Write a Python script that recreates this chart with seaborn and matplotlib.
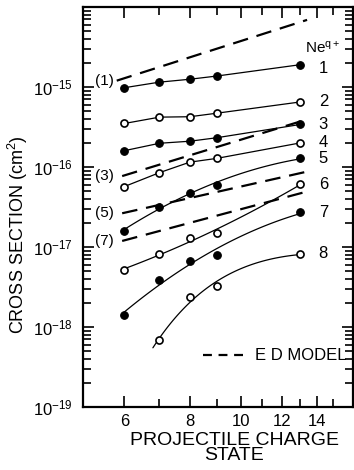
import numpy as np
import pandas as pd
import seaborn as sns
import matplotlib.pyplot as plt
from matplotlib.lines import Line2D
from matplotlib.ticker import FixedLocator, FixedFormatter, NullFormatter

# Data (cross sections in cm^2)
charge = [6, 7, 8, 9, 13]
ne1 = [9.8e-16, 1.15e-15, 1.25e-15, 1.37e-15, 1.9e-15]
ne2 = [3.5e-16, 4.2e-16, 4.25e-16, 4.7e-16, 6.5e-16]
ne3 = [1.6e-16, 1.98e-16, 2.1e-16, 2.32e-16, 3.4e-16]
ne4 = [5.7e-17, 8.5e-17, 1.15e-16, 1.28e-16, 2.0e-16]
ne5 = [1.6e-17, 3.2e-17, 4.8e-17, 6.0e-17, 1.28e-16]
ne6 = [5.2e-18, 8.1e-18, 1.31e-17, 1.48e-17, 6.1e-17]
ne7 = [1.41e-18, 3.9e-18, 6.7e-18, 7.9e-18, 2.7e-17]
ne8 = [np.nan, 6.9e-19, 2.4e-18, 3.25e-18, 8.2e-18]

# E D model lines (start / end of each dashed line)
ed_labels = ['(1)', '(3)', '(5)', '(7)']
ed_charge = [[5.8, 13.4], [5.94, 13.34], [5.94, 13.34], [5.94, 13.34]]
ed_values = [[1.2e-15, 6.9e-15], [7.7e-17, 3.9e-16], [2.64e-17, 8.7e-17], [1.19e-17, 4.9e-17]]

y_ticks = [1e-19, 1e-18, 1e-17, 1e-16, 1e-15]

series = [ne1, ne2, ne3, ne4, ne5, ne6, ne7, ne8]
filled = [True, False, True, False, True, False, True, False]

rows = []
for q, (vals, f) in enumerate(zip(series, filled), start=1):
    for c, v in zip(charge, vals):
        if not np.isnan(v):
            rows.append({'charge': c, 'sigma': v, 'q': q, 'filled': f})
df = pd.DataFrame(rows)

sns.set_style("ticks")
plt.rcParams['font.family'] = ['Liberation Sans', 'DejaVu Sans']
plt.rcParams['mathtext.fontset'] = 'custom'
plt.rcParams['mathtext.rm'] = 'Liberation Sans'
plt.rcParams['mathtext.it'] = 'Liberation Sans'
plt.rcParams['text.color'] = 'black'
plt.rcParams['axes.labelcolor'] = 'black'

fig = plt.figure(figsize=(3.54, 4.70), dpi=100)
ax = fig.add_axes([83 / 354, 63 / 470, 270 / 354, 400 / 470])
ax.set_xscale('log')
ax.set_yscale('log')

# measured curves: straight segments for q=1-4, smooth fits for q=5-8
for q in range(1, 9):
    sub = df[df.q == q]
    if q <= 4:
        sns.lineplot(data=sub, x='charge', y='sigma', ax=ax, color='black',
                     lw=0.9, estimator=None, legend=False)
    elif q < 8:
        coef = np.polyfit(np.log(sub.charge), np.log10(sub.sigma), 2)
        xs = np.linspace(6, 13, 80)
        ys = 10 ** np.polyval(coef, np.log(xs))
        sns.lineplot(x=xs, y=ys, ax=ax, color='black', lw=0.9, legend=False)
    else:
        coef = np.polyfit(1 / sub.charge, np.log10(sub.sigma), 2)
        xs = np.linspace(6.8, 13, 80)
        ys = 10 ** np.polyval(coef, 1 / xs)
        sns.lineplot(x=xs, y=ys, ax=ax, color='black', lw=0.9, legend=False)

sns.scatterplot(data=df[df.filled], x='charge', y='sigma', ax=ax, color='black',
                s=30, edgecolor='black', linewidth=0.8, zorder=3, legend=False)
sns.scatterplot(data=df[~df.filled], x='charge', y='sigma', ax=ax, color='white',
                s=26, edgecolor='black', linewidth=1.2, zorder=3, legend=False)

for lab, xs, ys in zip(ed_labels, ed_charge, ed_values):
    sns.lineplot(x=xs, y=ys, ax=ax, color='black', lw=1.6, legend=False)
    ax.lines[-1].set_dashes((7, 4))
    ax.text(5.72, ys[0], lab, ha='right', va='center', fontsize=11)

# ion labels on the right
for q, vals in enumerate(series, start=1):
    ax.text(14.1, vals[-1] * (0.9 if q == 1 else 1.0), str(q),
            ha='left', va='center', fontsize=12)
ax.text(13.3, 3.1e-15, 'Ne$^{q+}$', ha='left', va='center', fontsize=11)

ax.legend(handles=[Line2D([], [], color='black', lw=1.6, dashes=(4, 3))],
          labels=['E D MODEL'], loc='center right', bbox_to_anchor=(0.975, 0.1275),
          frameon=False, fontsize=12, handlelength=2.5, handletextpad=0.6,
          borderpad=0, borderaxespad=0)

ax.set_xlim(5, 16.4)
ax.set_ylim(1e-19, 1e-14)
ax.xaxis.set_major_locator(FixedLocator([6, 8, 10, 12, 14]))
ax.xaxis.set_major_formatter(FixedFormatter(['6', '8', '10', '12', '14']))
ax.xaxis.set_minor_locator(FixedLocator([7, 9, 11, 13, 15]))
ax.xaxis.set_minor_formatter(NullFormatter())
ax.yaxis.set_major_locator(FixedLocator(y_ticks + [1e-14]))
ax.yaxis.set_minor_locator(FixedLocator([m * t for t in y_ticks for m in range(2, 10)]))
ax.yaxis.set_minor_formatter(NullFormatter())
ax.yaxis.set_major_formatter(FixedFormatter(
    ['$10^{%d}$' % int(round(np.log10(t))) for t in y_ticks] + ['']))

ax.tick_params(which='both', direction='in', top=True, right=True, width=1.2,
               labelsize=12, colors='black')
ax.tick_params(which='major', length=8)
ax.tick_params(which='minor', length=6)
ax.tick_params(axis='x', which='both', pad=5)
ax.tick_params(axis='y', which='both', pad=7)
for s in ax.spines.values():
    s.set_linewidth(1.6)
    s.set_color('black')

ax.set_xlabel('PROJECTILE CHARGE\nSTATE', fontsize=14, linespacing=0.85)
ax.xaxis.set_label_coords(0.56, -0.0625, transform=ax.transAxes)
ax.xaxis.label.set_va('top')
ax.set_ylabel('CROSS SECTION (cm$^2$)', fontsize=13)
ax.yaxis.set_label_coords(-0.196, 0.43)

fig.savefig('out.png', dpi=100)
